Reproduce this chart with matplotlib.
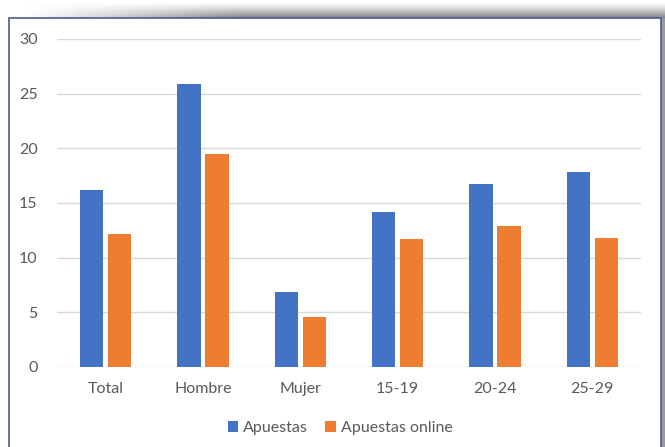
import matplotlib.pyplot as plt
import numpy as np
from matplotlib.patches import Rectangle

categories = ['Total', 'Hombre', 'Mujer', '15-19', '20-24', '25-29']
apuestas = [16.2, 25.9, 6.9, 14.2, 16.7, 17.8]
apuestas_online = [12.2, 19.5, 4.6, 11.7, 12.9, 11.8]

plt.rcParams['font.family'] = ['Lato', 'DejaVu Sans']

fig = plt.figure(figsize=(6.65, 4.47), dpi=100)
W, H = 665, 447

# shadow above / right of the chart frame (gradient image)
sh = fig.add_axes([0, 0, 1, 1], zorder=0)
sh.set_axis_off()
sh.set_xlim(0, W)
sh.set_ylim(H, 0)
ys = np.linspace(0, 1, 20)[:, None]
xs = np.clip(np.linspace(0, 1, 60)[None, :] * 3, 0, 1)
grad = 1 - 0.48 * ys ** 1.2 * xs
sh.imshow(grad, extent=(20, W, 18, 2), cmap='gray', vmin=0, vmax=1, aspect='auto', interpolation='bilinear')
sh.add_patch(Rectangle((661, 18), 4, H - 18, facecolor='#9a9a9a', edgecolor='none'))
sh.add_patch(Rectangle((9, 18), 652, H, facecolor='white', edgecolor='#4A5C95', linewidth=1.2))

ax = fig.add_axes([57 / W, (H - 367) / H, 584 / W, 328 / H])
ax.set_facecolor('none')
ax.set_zorder(2)

x = np.arange(len(categories))
w = 0.24
ax.bar(x - 0.145, apuestas, w, color='#4472C4', label='Apuestas', zorder=3)
ax.bar(x + 0.145, apuestas_online, w, color='#ED7D31', label='Apuestas online', zorder=3)

ax.set_xlim(-0.5, len(categories) - 0.5)
ax.set_ylim(0, 30)
ax.set_yticks(range(0, 31, 5))
ax.set_xticks(x)
ax.set_xticklabels(categories)
ax.grid(axis='y', color='#D9D9D9', linewidth=1, zorder=0)
for s in ax.spines.values():
    s.set_visible(False)
ax.tick_params(length=0, colors='#595959', labelsize=11.5)
ax.tick_params(axis='y', pad=14)
ax.tick_params(axis='x', pad=11)

fig.legend(loc='center', bbox_to_anchor=(340 / W, (H - 428) / H), ncol=2, frameon=False,
           fontsize=11.5, handlelength=0.65, handleheight=0.65, handletextpad=0.3, columnspacing=1.1,
           labelcolor='#595959')

fig.savefig('out.png', dpi=100)
